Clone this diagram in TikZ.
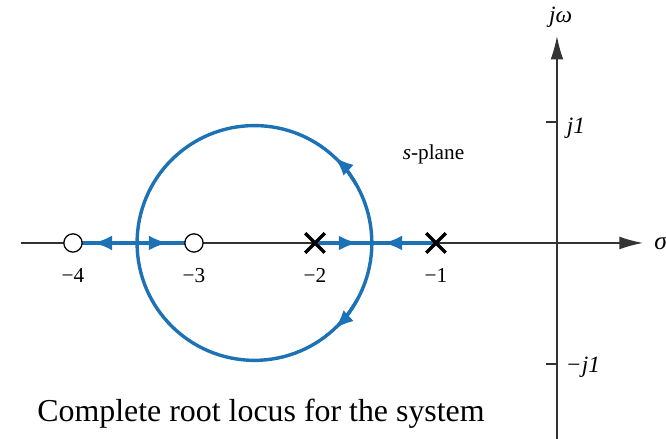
\documentclass[tikz,border=0pt]{standalone}
\usepackage{fontspec}
\setmainfont{Liberation Serif}
\usetikzlibrary{arrows.meta,shapes.misc}
\definecolor{locusblue}{RGB}{28,114,181}
\tikzset{
  locus/.style = {locusblue, line width = 1.6pt},
  locarrow/.style = {locus, -{Latex[length=9pt,width=7pt]}},
  axis/.style = {black!80, line width = 0.6pt},
  axisarrow/.style = {axis, -{Latex[length=11pt,width=6pt]}},
  zero/.style = {circle, draw, fill = white, line width = 0.6pt, minimum size = 8.6pt, inner sep = 0pt},
  pole/.style = {cross out, draw, line width = 1.6pt, minimum size = 7.6pt, inner sep = 0pt},
  lbl/.style = {font = \fontsize{10}{11}\selectfont, inner sep = 1pt}
}
\begin{document}
\begin{tikzpicture}[x = 2cm, y = 2cm]
\useasboundingbox (-4.603,-1.620) rectangle (0.901,2.008);
% axes
\coordinate (west) at (-4.43,0);
\coordinate (east) at (0.71,0);
\coordinate (south) at (0,-1.62);
\coordinate (north) at (0,1.71);
\draw[axisarrow] (west) -- (east);
\draw[axisarrow] (south) -- (north);
\node[lbl, font = \fontsize{12}{13}\selectfont] (sigma) at (0.86,0) {\textit{σ}};
\node[lbl, font = \fontsize{11}{12}\selectfont] (jw) at (0.03,1.868) {\textit{jω}};
\foreach \y/\name in {1/up, -1/down}
{
	\coordinate (tick\name) at (-0.09,\y);
	\draw[axis] (tick\name) -- (0,\y);
}
\node[lbl, font = \fontsize{11}{12}\selectfont] (jone) at (0.157,0.95) {\textit{j1}};
\node[lbl, font = \fontsize{11}{12}\selectfont] (mjone) at (0.215,-1.03) {\textit{−j1}};
% locus on the real axis
\foreach \v in {1,...,4}
{
	\coordinate (s\v) at (-\v,0);
	\node[lbl] (lab\v) at (-\v,-0.27) {−\v};
}
\coordinate (bin) at (-3.47,0);
\coordinate (baw) at (-1.53,0);
\coordinate (ctr) at (-2.5,0);
\draw[locus] (s4) -- (s3);
\draw[locus] (s2) -- (s1);
\coordinate (tipa) at (-3.835,0);
\coordinate (tipb) at (-3.215,0);
\coordinate (tipc) at (-1.645,0);
\coordinate (tipd) at (-1.438,0);
\draw[locarrow] (bin) -- (tipa);
\draw[locarrow] (bin) -- (tipb);
\draw[locarrow] (s2) -- (tipc);
\draw[locarrow] (s1) -- (tipd);
% the circle
\draw[locus] (ctr) circle [radius = 0.97];
\draw[locarrow] ([shift = {(ctr)}]30:0.97) arc [start angle = 30, end angle = 47, radius = 0.97];
\draw[locarrow] ([shift = {(ctr)}]-30:0.97) arc [start angle = -30, end angle = -47, radius = 0.97];
% zeros and poles
\node[zero] (z4) at (s4) {};
\node[zero] (z3) at (s3) {};
\node[pole] (p2) at (s2) {};
\node[pole] (p1) at (s1) {};
\node[lbl] (plane) at (-1.02,0.73) {\textit{s}-plane};
\node[anchor = base west, font = \fontsize{15}{18}\selectfont, inner sep = 0pt] (caption) at (-4.298,-1.475) {Complete root locus for the system};
\end{tikzpicture}
\end{document}
